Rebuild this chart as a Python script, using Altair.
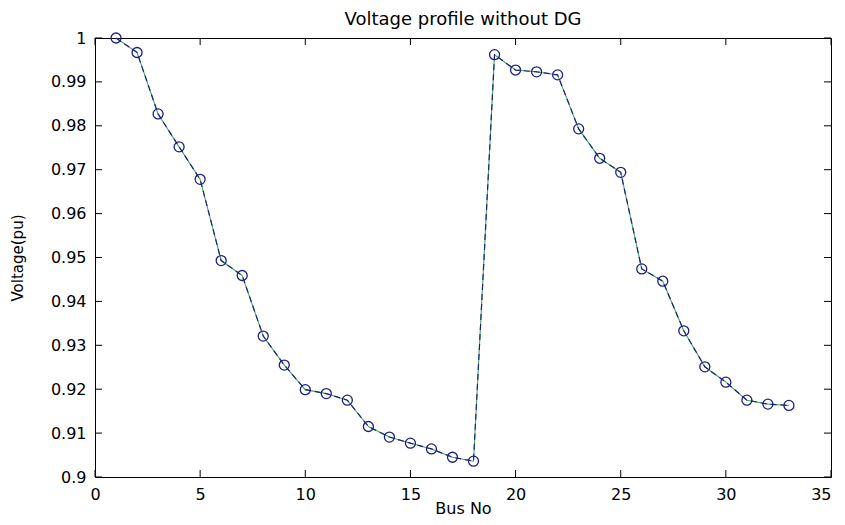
import altair as alt
import pandas as pd

# ---- data ----
bus = list(range(1, 34))
voltage = [1.0000, 0.9967, 0.9827, 0.9752, 0.9678, 0.9493, 0.9459, 0.9321,
           0.9255, 0.9199, 0.9190, 0.9175, 0.9115, 0.9091, 0.9077, 0.9064,
           0.9045, 0.9036, 0.9962, 0.9927, 0.9923, 0.9916, 0.9793, 0.9726,
           0.9694, 0.9474, 0.9446, 0.9333, 0.9251, 0.9216, 0.9175, 0.9166,
           0.9163]
x_ticks = [0, 5, 10, 15, 20, 25, 30, 35]
y_ticks = [0.9, 0.91, 0.92, 0.93, 0.94, 0.95, 0.96, 0.97, 0.98, 0.99, 1.0]
title_text = "Voltage profile without DG"

df = pd.DataFrame({"bus": bus, "v": voltage})
xt = pd.DataFrame({"t": x_ticks})
yt = pd.DataFrame({"t": y_ticks})

W, H = 736, 439
FONT = "DejaVu Sans"
TICK = 7
NAVY = "#1e1e8a"
GREEN = "#44a85a"

xscale = alt.Scale(domain=[0, 35], nice=False, zero=False)
yscale = alt.Scale(domain=[0.9, 1.0], nice=False, zero=False)

xaxis = alt.Axis(values=x_ticks, format="d", tickSize=0, domain=False, grid=False,
                 labelPadding=9, labelFont=FONT, labelFontSize=16, labelColor="black",
                 labelFlush=False, labelOverlap=False,
                 labelAlign=alt.ConditionalAxisLabelAlign(
                     condition={"test": "datum.value == 35", "value": "right"}, value="center"),
                 title="Bus No", titleFont=FONT, titleFontSize=16, titleFontWeight="normal",
                 titleColor="black", titleY=36, titleBaseline="alphabetic")
yaxis = alt.Axis(values=y_ticks, format=".2~f", tickSize=0, domain=False, grid=False,
                 labelPadding=9, labelFont=FONT, labelFontSize=16, labelColor="black",
                 labelFlush=False, labelOverlap=False,
                 title="Voltage(pu)", titleFont=FONT, titleFontSize=15, titleFontWeight="normal",
                 titleColor="black", titleX=-78, titleY=H / 2, titleAngle=270,
                 titleAlign="center", titleBaseline="middle")

X = lambda f: alt.X(f, scale=xscale, axis=xaxis)
Y = lambda f: alt.Y(f, scale=yscale, axis=yaxis)

tick_bottom = alt.Chart(xt).mark_rule(color="black", strokeWidth=1).encode(
    x=X("t:Q"), y=alt.value(H), y2=alt.value(H - TICK))
tick_top = alt.Chart(xt).mark_rule(color="black", strokeWidth=1).encode(
    x=X("t:Q"), y=alt.value(0), y2=alt.value(TICK))
tick_left = alt.Chart(yt).mark_rule(color="black", strokeWidth=1).encode(
    y=Y("t:Q"), x=alt.value(0), x2=alt.value(TICK))
tick_right = alt.Chart(yt).mark_rule(color="black", strokeWidth=1).encode(
    y=Y("t:Q"), x=alt.value(W - TICK), x2=alt.value(W))

line_g = alt.Chart(df).mark_line(color=GREEN, strokeWidth=1.1).encode(
    x=X("bus:Q"), y=Y("v:Q"))
line_b = alt.Chart(df).mark_line(color=NAVY, strokeWidth=1.2, strokeDash=[6, 4]).encode(
    x=X("bus:Q"), y=Y("v:Q"))
pts = alt.Chart(df).mark_point(shape="circle", filled=False, color=NAVY, size=100,
                               strokeWidth=1.3, opacity=1).encode(
    x=X("bus:Q"), y=Y("v:Q"))

title = alt.Chart(pd.DataFrame({"t": [title_text]})).mark_text(
    font=FONT, fontSize=18, color="black", align="center", baseline="alphabetic").encode(
    text="t:N", x=alt.value(W / 2), y=alt.value(-13))

chart = alt.layer(tick_bottom, tick_top, tick_left, tick_right, line_g, line_b, pts, title).properties(
    width=W, height=H,
    autosize=alt.AutoSizeParams(type="none"),
    padding={"left": 87, "top": 30, "right": 6, "bottom": 40},
    background="white",
).configure_view(stroke="black", strokeWidth=1)

chart.save("out.html", embed_options={"renderer": "svg", "actions": False})
